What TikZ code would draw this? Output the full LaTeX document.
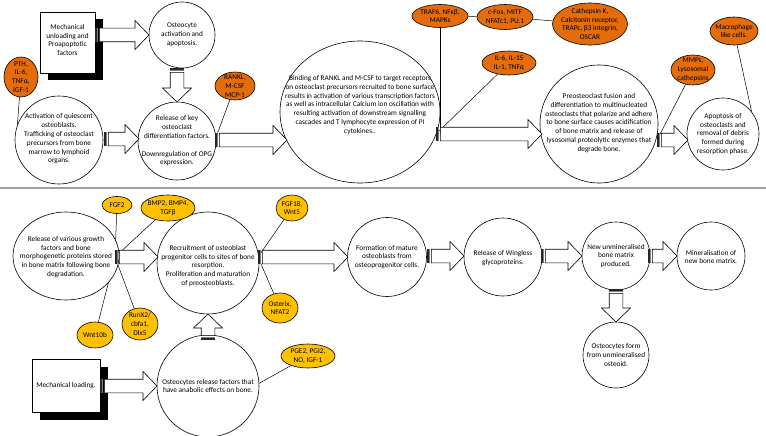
\documentclass[tikz,border=0pt]{standalone}
\usepackage{fontspec}
\setmainfont{Carlito}
\usetikzlibrary{shapes.geometric,calc,backgrounds}
\definecolor{orng}{RGB}{228,108,10}
\definecolor{yel}{RGB}{255,192,0}
\tikzset{
  every node/.style={font=\fontsize{7.3}{8.8}\selectfont, align=center, inner sep=0pt},
  circ/.style={circle, draw, fill=white, line width=0.6pt, minimum size=#1},
  ellb/.style={ellipse, draw, fill=white, line width=0.6pt},
  ofac/.style={ellipse, draw, fill=orng, line width=0.6pt},
  yfac/.style={ellipse, draw, fill=yel, line width=0.6pt},
  lbl/.style={draw=none, fill=none},
  link/.style={line width=0.5pt},
  sepline/.style={draw=gray!75, line width=1.3pt},
  sbox/.style={draw, fill=white, line width=0.6pt},
  shadowbox/.style={fill=black},
  stripeA/.style={fill=black!85},
  stripeB/.style={fill=black!50},
  arrbody/.style={draw, fill=white, line width=0.6pt},
}
\newcommand\sarrow[2]{%
  \path let \p1=($(#2)-(#1)$), \n1={veclen(\x1,\y1)}, \n2={atan2(\y1,\x1)} in
    \pgfextra{\xdef\arrlen{\n1}\xdef\arrang{\n2}};
  \begin{scope}[shift={(#1)}, rotate=\arrang]
    \fill[stripeA] (0pt,-6.8pt) rectangle (1.7pt,6.8pt);
    \fill[stripeB] (1.7pt,-6.8pt) rectangle (3.3pt,6.8pt);
    \draw[arrbody] (4.4pt,-6.8pt) -- ({\arrlen-14pt},-6.8pt) -- ({\arrlen-14pt},-14.5pt)
      -- ({\arrlen+0pt},0pt) -- ({\arrlen-14pt},14.5pt) -- ({\arrlen-14pt},6.8pt)
      -- (4.4pt,6.8pt) -- cycle;
  \end{scope}}
\begin{document}
\begin{tikzpicture}[x=1pt,y=-1pt]
\useasboundingbox (0,0) rectangle (766,436);
\begin{scope}[on background layer]
  \fill[white] (0,0) rectangle (766,436);
\end{scope}

% ---------------- top panel ----------------
\fill[shadowbox] (48,19) rectangle (103,80);
\node[sbox, minimum width=55pt, minimum height=61pt] (unload) at (67.5,42.5) {};
\node[lbl] (unloadT) at (67.5,40) {Mechanical\\unloading and\\Proapoptotic\\factors};

\node[circ=66pt] (osteo) at (182,35) {};
\node[lbl] (osteoT) at (osteo) {Osteocyte\\activation and\\apoptosis.};

\node[circ=88pt] (act) at (59,140) {};
\node[lbl] (actT) at (59,139) {Activation of quiescent\\osteoblasts.\\Trafficking of osteoclast\\precursors from bone\\marrow to lymphoid\\organs.};

\node[circ=78pt] (rel) at (177,141) {};
\node[lbl] (relT) at (177,141) {Release of key\\osteoclast\\differentiation factors.\\[8.8pt]Downregulation of OPG\\expression.};

\node[ellb, minimum width=160pt, minimum height=142pt] (bind) at (360,112) {};
\node[lbl] (bindT) at (360,105) {\fontsize{7.3}{9}\selectfont Binding of RANKL and M-CSF to target receptors\\on osteoclast precursors recruited to bone surface\\results in activation of various transcription factors\\as well as intracellular Calcium ion oscillation with\\resulting activation of downstream signalling\\cascades and T lymphocyte expression of PI\\cytokines..};

\node[circ=118pt] (preo) at (599,124) {};
\node[lbl] (preoT) at (599,123) {Preosteoclast fusion and\\differentiation to multinucleated\\osteoclasts that polarize and adhere\\to bone surface causes acidification\\of bone matrix and release of\\lysosomal proteolytic enzymes that\\degrade bone.};

\node[circ=72pt] (apop) at (723,134) {};
\node[lbl] (apopT) at (apop) {Apoptosis of\\osteoclasts and\\removal of debris\\formed during\\resorption phase.};

\node[ofac, minimum width=34pt, minimum height=40pt] (pth) at (21,77) {};
\node[lbl] (pthT) at (pth) {PTH,\\IL-6,\\TNFα,\\IGF-1};
\node[ofac, minimum width=40pt, minimum height=28pt] (rankl) at (235,86) {};
\node[lbl] (ranklT) at (rankl) {RANKL,\\M-CSF\\MCP-1};
\node[ofac, minimum width=56pt, minimum height=23pt] (traf) at (440,16) {};
\node[lbl] (trafT) at (traf) {TRAF6, NFκβ,\\MAPKs};
\node[ofac, minimum width=56pt, minimum height=25pt] (cfos) at (505,17) {};
\node[lbl] (cfosT) at (cfos) {c-Fos, MITF\\NFATc1, PU.1};
\node[ofac, minimum width=75pt, minimum height=42pt] (cath) at (590,24) {};
\node[lbl] (cathT) at (cath) {Cathepsin K,\\Calcitonin receptor,\\TRAPc, β3 integrin,\\OSCAR};
\node[ofac, minimum width=54pt, minimum height=24pt] (il6) at (509,63) {};
\node[lbl] (il6T) at (il6) {IL-6, IL-15\\IL-1, TNFα};
\node[ofac, minimum width=44pt, minimum height=30pt] (mmps) at (693,70) {};
\node[lbl] (mmpsT) at (mmps) {MMPs,\\Lysosomal\\cathepsins};
\node[ofac, minimum width=48pt, minimum height=28pt] (macro) at (734,31) {};
\node[lbl] (macroT) at (macro) {Macrophage\\like cells.};

% separator
\coordinate (sepL) at (0,188);
\coordinate (sepR) at (766,188);
\draw[sepline] (sepL) -- (sepR);

% ---------------- bottom panel ----------------
\node[ellb, minimum width=106pt, minimum height=88pt] (grow) at (66,256) {};
\node[lbl] (growT) at (66,257) {Release of various growth\\factors and bone\\morphogenetic proteins stored\\in bone matrix following bone\\degradation.};

\node[circ=102pt] (recr) at (208,263) {};
\node[lbl] (recrT) at (208,266) {Recruitment of osteoblast\\progenitor cells to sites of bone\\resorption.\\Proliferation and maturation\\of preosteoblasts.};

\node[circ=79pt] (form) at (387,257) {};
\node[lbl] (formT) at (form) {Formation of mature\\osteoblasts from\\osteoprogenitor cells.};

\node[circ=78pt] (wing) at (503,257) {};
\node[lbl] (wingT) at (503,258) {Release of Wingless\\glycoproteins.};

\node[circ=68pt] (newm) at (616,256) {};
\node[lbl] (newmT) at (616,256) {New unmineralised\\bone matrix\\produced.};

\node[circ=68pt] (mine) at (711,256) {};
\node[lbl] (mineT) at (711,257) {Mineralisation of\\new bone matrix.};

\node[circ=66pt] (ostf) at (616,355) {};
\node[lbl] (ostfT) at (ostf) {Osteocytes form\\from unmineralised\\osteoid.};

\fill[shadowbox] (40,367) rectangle (108,420);
\node[sbox, minimum width=68pt, minimum height=53pt] (load) at (66,385.5) {};
\node[lbl] (loadT) at (load) {Mechanical loading.};

\node[circ=102pt] (orel) at (208,386) {};
\node[lbl] (orelT) at (orel) {Osteocytes release factors that\\have anabolic effects on bone.};

\node[yfac, minimum width=30pt, minimum height=17pt] (fgf2) at (117,205) {};
\node[lbl] (fgf2T) at (fgf2) {FGF2};
\node[yfac, minimum width=54pt, minimum height=26pt] (bmp) at (168,208) {};
\node[lbl] (bmpT) at (bmp) {BMP2, BMP4,\\TGFβ};
\node[yfac, minimum width=36pt, minimum height=26pt] (wnt) at (95,335) {};
\node[lbl] (wntT) at (wnt) {Wnt10b};
\node[yfac, minimum width=36pt, minimum height=32pt] (runx) at (140,324) {};
\node[lbl] (runxT) at (runx) {RunX2/\\cbfa1,\\Dlx5};
\node[yfac, minimum width=32pt, minimum height=26pt] (fgf18) at (292,208) {};
\node[lbl] (fgf18T) at (fgf18) {FGF18,\\Wnt5};
\node[yfac, minimum width=36pt, minimum height=30pt] (ostx) at (280,308) {};
\node[lbl] (ostxT) at (ostx) {Osterix,\\NFAT2};
\node[yfac, minimum width=54pt, minimum height=24pt] (pge) at (308,356) {};
\node[lbl] (pgeT) at (pge) {PGE2, PGI2,\\NO, IGF-1};

% ---------------- block arrows ----------------
\coordinate (a1t) at (95,35);   \coordinate (a1h) at (149,35);
\coordinate (a2t) at (177,68);  \coordinate (a2h) at (177,102);
\coordinate (a3t) at (104,139); \coordinate (a3h) at (139,139);
\coordinate (a4t) at (215,140); \coordinate (a4h) at (287,140);
\coordinate (a5t) at (436,134); \coordinate (a5h) at (542,134);
\coordinate (a6t) at (657,140); \coordinate (a6h) at (688,140);
\coordinate (b1t) at (115,257); \coordinate (b1h) at (158,257);
\coordinate (b2t) at (258,257); \coordinate (b2h) at (348,257);
\coordinate (b3t) at (427,256); \coordinate (b3h) at (464,256);
\coordinate (b4t) at (541,256); \coordinate (b4h) at (582,256);
\coordinate (b5t) at (648,256); \coordinate (b5h) at (677,256);
\coordinate (b6t) at (616,289); \coordinate (b6h) at (616,322);
\coordinate (b7t) at (100,386); \coordinate (b7h) at (157,386);
\coordinate (b8t) at (208,340); \coordinate (b8h) at (208,314);
\sarrow{a1t}{a1h}
\sarrow{a2t}{a2h}
\sarrow{a3t}{a3h}
\sarrow{a4t}{a4h}
\sarrow{a5t}{a5h}
\sarrow{a6t}{a6h}
\sarrow{b1t}{b1h}
\sarrow{b2t}{b2h}
\sarrow{b3t}{b3h}
\sarrow{b4t}{b4h}
\sarrow{b5t}{b5h}
\sarrow{b6t}{b6h}
\sarrow{b7t}{b7h}
\sarrow{b8t}{b8h}

% ---------------- links ----------------
\begin{scope}[on background layer]
  \draw[link] (pth) -- (act.160);
  \draw[link] (rankl) -- (a4t);
  \draw[link] (traf) -- (traf |- a5t);
  \draw[link] (traf) -- (cfos);
  \draw[link] (cfos) -- (cath);
  \draw[link] (il6) -- (a5t);
  \draw[link] (mmps) -- (a6t);
  \draw[link] (macro) -- (apop.38);
  \draw[link] (fgf2) -- (b1t);
  \draw[link] (bmp) -- (b1t);
  \draw[link] (wnt) -- (b1t);
  \draw[link] (runx) -- (b1t);
  \draw[link] (fgf18) -- (b2t);
  \draw[link] (ostx) -- (b2t);
  \draw[link] (pge) -- (orel.3);
\end{scope}
\end{tikzpicture}
\end{document}
